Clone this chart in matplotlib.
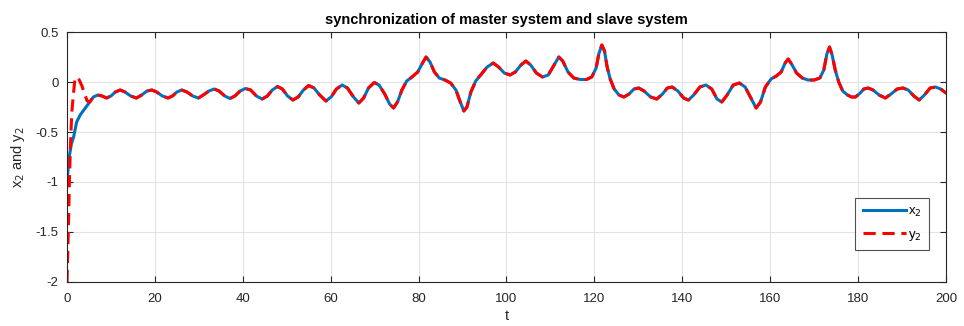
"""
Synchronization of master and slave systems: state x2 of the master
against state y2 of the slave over time.
Saves out.png.
"""

import matplotlib.pyplot as plt

# Sample times and master state x2
t = [
    0.0, 0.5, 1.0, 1.5, 2.2, 3.0, 4.0, 5.0, 6.0, 7.0,
    8.0, 9.0, 10.0, 11.0, 12.1, 13.2, 14.5, 15.8, 17.0, 18.2,
    19.3, 20.4, 21.7, 23.0, 24.0, 25.0, 26.1, 27.3, 28.6, 29.9,
    31.0, 32.3, 33.5, 34.6, 35.9, 37.1, 38.2, 39.4, 40.6, 41.8,
    43.1, 44.4, 45.6, 46.7, 47.9, 49.0, 50.2, 51.4, 52.6, 53.8,
    55.0, 56.2, 57.5, 58.9, 60.1, 61.3, 62.6, 63.8, 65.2, 66.4,
    67.5, 68.6, 69.9, 71.0, 72.3, 73.4, 74.3, 75.2, 76.2, 77.3,
    78.5, 79.8, 80.9, 81.7, 82.6, 83.6, 84.7, 86.0, 87.3, 88.5,
    89.4, 90.3, 91.0, 91.9, 93.0, 94.3, 95.6, 97.0, 98.2, 99.5,
    100.8, 102.0, 103.3, 104.4, 105.5, 106.8, 108.2, 109.5, 110.7, 111.9,
    112.8, 114.0, 115.3, 116.8, 118.2, 119.4, 120.4, 121.0, 121.7, 122.3,
    122.9, 123.6, 124.5, 125.6, 126.7, 127.9, 129.0, 130.1, 131.3, 132.8,
    134.2, 135.5, 136.6, 137.7, 139.0, 140.3, 141.4, 142.6, 144.0, 145.4,
    146.7, 147.9, 149.0, 150.2, 151.6, 153.0, 154.3, 155.6, 156.8, 157.8,
    158.9, 160.2, 161.4, 162.5, 163.4, 164.1, 165.0, 166.0, 167.3, 168.6,
    170.0, 171.3, 172.2, 172.9, 173.5, 174.1, 174.8, 175.6, 176.5, 177.6,
    178.5, 179.4, 180.5, 181.3, 182.3, 183.4, 184.8, 186.2, 187.5, 188.9,
    190.2, 191.4, 192.7, 193.9, 195.1, 196.4, 197.6, 198.8, 200.0,
]
x2 = [
    -1.00, -0.75, -0.62, -0.55, -0.40, -0.33, -0.27, -0.21, -0.15, -0.13,
    -0.14, -0.16, -0.14, -0.10, -0.08, -0.10, -0.14, -0.16, -0.13, -0.09,
    -0.08, -0.10, -0.14, -0.16, -0.14, -0.10, -0.08, -0.10, -0.14, -0.16,
    -0.13, -0.09, -0.07, -0.09, -0.14, -0.165, -0.14, -0.09, -0.065, -0.08,
    -0.14, -0.17, -0.14, -0.08, -0.045, -0.07, -0.14, -0.18, -0.15, -0.08,
    -0.035, -0.06, -0.13, -0.19, -0.15, -0.07, -0.03, -0.06, -0.15, -0.21,
    -0.16, -0.06, -0.005, -0.03, -0.12, -0.22, -0.26, -0.20, -0.08, 0.01,
    0.05, 0.10, 0.19, 0.25, 0.20, 0.10, 0.04, 0.02, -0.01, -0.08,
    -0.19, -0.29, -0.25, -0.10, 0.01, 0.08, 0.15, 0.19, 0.15, 0.09,
    0.07, 0.10, 0.17, 0.21, 0.17, 0.09, 0.05, 0.07, 0.16, 0.25,
    0.21, 0.10, 0.04, 0.025, 0.025, 0.05, 0.14, 0.28, 0.37, 0.31,
    0.15, 0.03, -0.07, -0.13, -0.15, -0.12, -0.07, -0.06, -0.09, -0.15,
    -0.17, -0.12, -0.06, -0.05, -0.09, -0.16, -0.18, -0.13, -0.05, -0.03,
    -0.07, -0.17, -0.20, -0.13, -0.03, -0.01, -0.05, -0.16, -0.26, -0.20,
    -0.05, 0.03, 0.06, 0.10, 0.19, 0.23, 0.17, 0.09, 0.04, 0.02,
    0.02, 0.04, 0.12, 0.28, 0.35, 0.27, 0.12, 0.00, -0.09, -0.13,
    -0.15, -0.15, -0.11, -0.07, -0.06, -0.08, -0.13, -0.16, -0.12, -0.07,
    -0.06, -0.08, -0.14, -0.18, -0.13, -0.06, -0.05, -0.07, -0.11,
]

# Slave state y2: its own transient, then it follows x2 once synchronized
t_start = [0.0, 0.3, 0.6, 0.9, 1.1, 1.4, 1.8, 2.3, 2.8, 3.4, 4.0, 4.6, 5.2]
y2_start = [-2.0, -1.5, -0.9, -0.5, -0.3, -0.15, 0.03, 0.05, 0.02, -0.04, -0.12, -0.19, -0.20]
sync_index = 8  # x2 sample from which y2 coincides with x2 (t = 6)

t_y = t_start + t[sync_index:]
y2 = y2_start + x2[sync_index:]

plt.rcParams["font.family"] = ["Liberation Sans", "DejaVu Sans"]

fig = plt.figure(figsize=(9.64, 3.26), dpi=100)
ax = fig.add_axes([0.0695, 0.135, 0.9118, 0.7668])

ax.plot(t, x2, color="#0072BD", lw=2.2, label="x$_2$")
ax.plot(t_y, y2, color="red", lw=2.2, linestyle=(0, (4, 2.2)), label="y$_2$")

ax.set_xlim(0, 200)
ax.set_ylim(-2, 0.5)
ax.set_xticks(range(0, 201, 20))
ax.set_yticks([-2, -1.5, -1, -0.5, 0, 0.5])
ax.set_yticklabels(["-2", "-1.5", "-1", "-0.5", "0", "0.5"])

ax.grid(True, color="#e3e3e3", lw=0.8)
ax.set_axisbelow(True)
ax.tick_params(direction="in", top=True, right=True, length=4,
               labelsize=9.5, colors="#262626")
ax.tick_params(axis="x", pad=8)
ax.tick_params(axis="y", pad=6)
for side in ax.spines.values():
    side.set_color("#262626")
    side.set_linewidth(0.8)

ax.set_title("synchronization of master system and slave system",
             fontsize=10.5, fontweight="bold", pad=6)
ax.set_xlabel("t", fontsize=10.5, color="#262626", labelpad=3)
ax.set_ylabel("x$_2$ and y$_2$", fontsize=10.5, color="#262626", labelpad=6)

leg = ax.legend(loc="lower right", bbox_to_anchor=(0.9807, 0.128),
                fontsize=9.5, frameon=True, fancybox=False,
                handlelength=3.3, handletextpad=0.15, borderpad=0.55,
                labelspacing=0.75, borderaxespad=0)
leg.get_frame().set_edgecolor("#262626")
leg.get_frame().set_linewidth(0.8)

fig.savefig("out.png", dpi=100)
plt.close(fig)
